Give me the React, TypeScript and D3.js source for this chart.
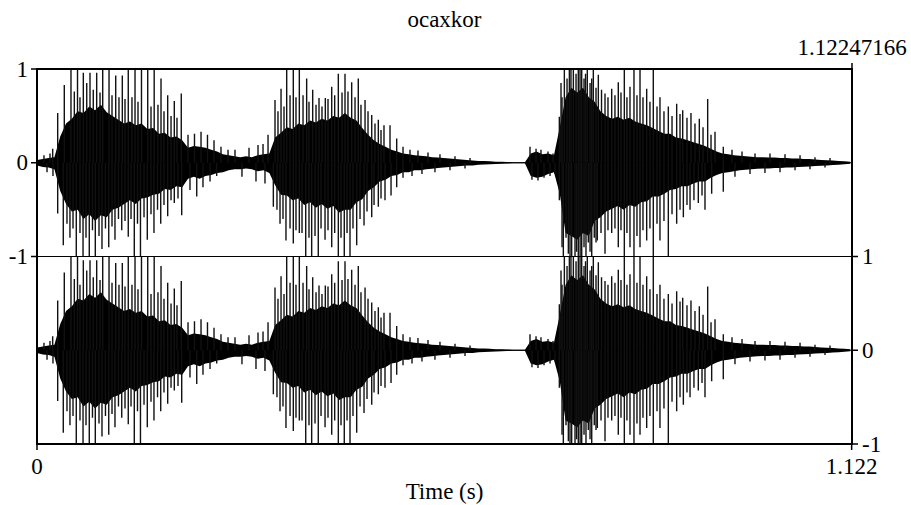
import * as d3 from 'd3';

// Praat-style stereo waveform: "ocaxkor"
const TITLE = 'ocaxkor';
const DURATION = 1.12247166;
const durationLabel = '1.12247166';
const timeTicks = [0, 1.122];
const timeTickLabels = ['0', '1.122'];
const ampTicks = [1, 0, -1];
const ampTickLabels = ['1', '0', '-1'];
const xTitle = 'Time (s)';

// solid core of the waveform, sampled every ENV_STEP seconds (upper and lower extent)
const ENV_STEP = 0.008;
const envUpper = [
  0.03, 0.04, 0.05, 0.06, 0.28, 0.42, 0.47, 0.55, 0.53, 0.6, 0.56, 0.62, 0.54, 0.5, 0.46, 0.42,
  0.44, 0.4, 0.42, 0.36, 0.37, 0.31, 0.32, 0.27, 0.28, 0.24, 0.16, 0.18, 0.17, 0.16, 0.14, 0.12,
  0.09, 0.08, 0.07, 0.06, 0.07, 0.06, 0.08, 0.09, 0.1, 0.27, 0.32, 0.38, 0.36, 0.42, 0.4, 0.45,
  0.43, 0.47, 0.45, 0.5, 0.48, 0.53, 0.48, 0.45, 0.37, 0.3, 0.24, 0.2, 0.17, 0.14, 0.12, 0.1,
  0.09, 0.08, 0.075, 0.07, 0.06, 0.055, 0.05, 0.045, 0.04, 0.035, 0.03, 0.025, 0.02, 0.018, 0.015, 0.012,
  0.01, 0.008, 0.006, 0.005, 0.005, 0.1, 0.12, 0.09, 0.1, 0.08, 0.38, 0.7, 0.8, 0.75, 0.8, 0.7,
  0.65, 0.55, 0.5, 0.47, 0.49, 0.46, 0.48, 0.44, 0.42, 0.4, 0.37, 0.34, 0.31, 0.31, 0.27, 0.26,
  0.24, 0.22, 0.2, 0.18, 0.15, 0.12, 0.1, 0.09, 0.08, 0.075, 0.07, 0.065, 0.06, 0.06, 0.055, 0.055,
  0.05, 0.05, 0.045, 0.045, 0.04, 0.04, 0.035, 0.03, 0.028, 0.025, 0.02, 0.015, 0.01,
];
const envLower = [
  0.03, 0.045, 0.05, 0.07, 0.3, 0.44, 0.52, 0.5, 0.6, 0.55, 0.62, 0.56, 0.58, 0.5, 0.48, 0.44,
  0.4, 0.44, 0.38, 0.37, 0.34, 0.33, 0.28, 0.29, 0.25, 0.26, 0.17, 0.15, 0.17, 0.14, 0.13, 0.11,
  0.1, 0.08, 0.07, 0.07, 0.06, 0.07, 0.09, 0.08, 0.11, 0.24, 0.34, 0.35, 0.4, 0.38, 0.45, 0.42,
  0.48, 0.44, 0.49, 0.46, 0.53, 0.5, 0.5, 0.42, 0.39, 0.3, 0.26, 0.2, 0.18, 0.14, 0.13, 0.1,
  0.1, 0.08, 0.08, 0.07, 0.065, 0.055, 0.05, 0.045, 0.04, 0.035, 0.03, 0.028, 0.022, 0.018, 0.015, 0.012,
  0.01, 0.008, 0.006, 0.005, 0.005, 0.14, 0.16, 0.15, 0.12, 0.1, 0.33, 0.75, 0.78, 0.82, 0.75, 0.78,
  0.62, 0.58, 0.52, 0.49, 0.46, 0.5, 0.45, 0.47, 0.42, 0.41, 0.36, 0.36, 0.33, 0.29, 0.28, 0.25,
  0.25, 0.22, 0.2, 0.2, 0.16, 0.13, 0.11, 0.1, 0.09, 0.08, 0.075, 0.07, 0.065, 0.06, 0.06, 0.055,
  0.055, 0.05, 0.05, 0.045, 0.042, 0.04, 0.035, 0.032, 0.028, 0.025, 0.02, 0.015, 0.01,
];

// single excursions [time s, amplitude]; values past 1 are clipped by the frame
const noisePeaks: [number, number][] = [
  [0.0096, 0.08], [0.0138, -0.1], [0.0179, 0.1], [0.0216, 0.15], [0.022, -0.14],
  [0.2727, 0.14], [0.2823, -0.15], [0.292, 0.16], [0.3016, -0.2], [0.3044, 0.19],
  [0.3113, 0.2], [0.314, -0.22], [0.3182, 0.3],
];
const syllable1Peaks: [number, number][] = [
  [0.0285, 0.53], [0.0376, 0.83], [0.0468, 1.2], [0.0558, 1.2], [0.0638, 0.96], [0.073, 0.96],
  [0.0822, 0.96], [0.0905, 1.2], [0.0992, 1.2], [0.1084, 0.93], [0.1175, 0.93], [0.1257, 1.2],
  [0.135, 1.2], [0.1439, 1.2], [0.1525, 1.2], [0.1614, 1.2], [0.1708, 0.9], [0.18, 0.72],
  [0.1891, 0.66], [0.1987, 0.74], [0.208, 0.3], [0.2169, 0.31], [0.2259, 0.33], [0.2348, 0.3],
  [0.2438, 0.24], [0.2534, 0.17], [0.2631, 0.14],
  [0.0514, 0.76], [0.0592, 0.7], [0.0685, 0.85], [0.0775, 0.78], [0.0868, 0.75], [0.1033, 0.72],
  [0.1129, 0.7], [0.1212, 0.68], [0.1308, 0.7], [0.1391, 0.65], [0.157, 0.6], [0.1666, 0.62],
  [0.1749, 0.55], [0.1846, 0.5], [0.1928, 0.48],
  [0.0285, -0.54], [0.0362, -0.88], [0.0454, -0.8], [0.0541, -1.2], [0.0634, -1.2], [0.072, -1.2],
  [0.0803, -1.2], [0.0895, -0.92], [0.0988, -0.9], [0.1074, -0.82], [0.1167, -0.72], [0.1257, -0.79],
  [0.134, -1.2], [0.1425, -1.2], [0.1519, -0.82], [0.1611, -0.75], [0.1704, -0.65], [0.18, -0.57],
  [0.1891, -0.43], [0.1993, -0.56], [0.2107, -0.29], [0.22, -0.36], [0.2286, -0.26], [0.2383, -0.2],
  [0.2475, -0.14],
  [0.0413, -0.65], [0.0496, -0.7], [0.0592, -0.75], [0.0675, -0.8], [0.0764, -0.72], [0.0854, -0.78],
  [0.0943, -0.7], [0.1033, -0.68], [0.1122, -0.6], [0.1212, -0.62], [0.1295, -0.6], [0.1384, -0.65],
  [0.1474, -0.58], [0.157, -0.55], [0.166, -0.5], [0.1749, -0.45], [0.1846, -0.4], [0.1942, -0.38],
];
const syllable2Peaks: [number, number][] = [
  [0.3278, 0.67], [0.3361, 0.79], [0.3439, 1.2], [0.353, 1.2], [0.3613, 1.2], [0.3714, 0.9],
  [0.3797, 0.78], [0.3884, 0.69], [0.3971, 0.69], [0.4059, 0.81], [0.415, 0.95], [0.4242, 0.95],
  [0.4334, 0.86], [0.4425, 0.9], [0.4518, 0.67], [0.461, 0.51], [0.4701, 0.46], [0.4779, 0.4],
  [0.4862, 0.4], [0.4954, 0.26], [0.5041, 0.17], [0.5137, 0.14], [0.5247, 0.13], [0.5385, 0.11],
  [0.555, 0.09], [0.5757, 0.07], [0.5964, 0.05],
  [0.3319, 0.55], [0.3402, 0.6], [0.3485, 0.72], [0.3567, 0.7], [0.3664, 0.72], [0.3746, 0.65],
  [0.3843, 0.62], [0.3925, 0.6], [0.4008, 0.68], [0.41, 0.72], [0.4201, 0.75], [0.4283, 0.76],
  [0.438, 0.7], [0.4462, 0.62], [0.4559, 0.55], [0.4655, 0.42], [0.4738, 0.35],
  [0.3255, -0.47], [0.3347, -0.65], [0.3429, -0.83], [0.353, -0.86], [0.3613, -0.75], [0.3701, -1.2],
  [0.3783, -1.2], [0.3874, -1.2], [0.3967, -0.82], [0.4059, -0.9], [0.415, -1.2], [0.4232, -1.2],
  [0.4311, -1.2], [0.4403, -0.88], [0.4504, -0.67], [0.461, -0.58], [0.4701, -0.47], [0.4793, -0.4],
  [0.4876, -0.35], [0.4954, -0.26], [0.5041, -0.16], [0.5165, -0.14], [0.5302, -0.12], [0.5481, -0.1],
  [0.5688, -0.08], [0.5895, -0.06],
  [0.3305, -0.5], [0.3388, -0.6], [0.3485, -0.7], [0.3567, -0.72], [0.365, -0.75], [0.3746, -0.8],
  [0.3829, -0.78], [0.3912, -0.7], [0.4008, -0.72], [0.41, -0.75], [0.4187, -0.8], [0.427, -0.75],
  [0.4352, -0.7], [0.4449, -0.6], [0.4545, -0.52], [0.4642, -0.45], [0.4738, -0.38],
];
const syllable3Peaks: [number, number][] = [
  [0.679, 0.17], [0.6873, 0.15], [0.6941, 0.14], [0.7038, 0.12], [0.7107, 0.1],
  [0.6817, -0.18], [0.69, -0.19], [0.6983, -0.16], [0.7066, -0.14], [0.7134, -0.12],
  [0.7194, 0.49], [0.7263, 1.2], [0.7332, 1.2], [0.7387, 1.2], [0.7455, 1.2], [0.7502, 1.2],
  [0.7579, 1.2], [0.7662, 1.2], [0.7731, 0.94], [0.7823, 0.74], [0.7915, 0.79], [0.8006, 0.86],
  [0.8089, 1.2], [0.8167, 0.81], [0.8222, 1.2], [0.8305, 1.2], [0.8397, 0.79], [0.8488, 1.2],
  [0.858, 0.7], [0.8695, 0.6], [0.881, 0.63], [0.8893, 0.56], [0.9007, 0.53], [0.9122, 0.47],
  [0.9237, 0.68], [0.9338, 0.33], [0.9452, 0.17], [0.9572, 0.14], [0.971, 0.12], [0.9889, 0.1],
  [1.0095, 0.1], [1.0302, 0.09], [1.0509, 0.08], [1.0715, 0.06], [1.0922, 0.05],
  [0.7231, 0.7], [0.73, 0.9], [0.7424, 0.95], [0.7534, 0.9], [0.7617, 0.85], [0.7699, 0.8],
  [0.7775, 0.78], [0.7864, 0.7], [0.796, 0.72], [0.8043, 0.75], [0.8125, 0.7], [0.8263, 0.72],
  [0.8346, 0.7], [0.8442, 0.65], [0.8539, 0.6], [0.8635, 0.55], [0.8746, 0.5], [0.8856, 0.52],
  [0.8952, 0.48], [0.9062, 0.42], [0.9173, 0.38], [0.9283, 0.3],
  [0.7217, 0.85], [0.7354, 1.1], [0.7479, 1.0], [0.7555, 0.95], [0.764, 0.9],
  [0.7194, -0.4], [0.7249, -1.2], [0.7318, -0.97], [0.7364, -1.2], [0.741, -1.2], [0.7455, -1.2],
  [0.7502, -1.2], [0.7561, -1.2], [0.764, -1.2], [0.7717, -0.83], [0.7823, -0.97], [0.7915, -0.75],
  [0.8006, -0.9], [0.8089, -1.2], [0.8167, -0.9], [0.8222, -1.2], [0.8305, -0.9], [0.8397, -0.83],
  [0.8488, -1.2], [0.858, -0.83], [0.8695, -1.2], [0.881, -0.65], [0.8902, -0.58], [0.8994, -0.5],
  [0.9108, -0.43], [0.92, -0.5], [0.9292, -0.33], [0.9452, -0.31], [0.9613, -0.15], [0.982, -0.12],
  [1.0026, -0.11], [1.0233, -0.1], [1.044, -0.08], [1.0646, -0.07], [1.0853, -0.05],
  [0.7286, -0.8], [0.7593, -0.85], [0.7675, -0.8], [0.7768, -0.75], [0.7864, -0.72], [0.796, -0.7],
  [0.8043, -0.72], [0.8125, -0.75], [0.8263, -0.78], [0.8346, -0.72], [0.8442, -0.7], [0.8539, -0.65],
  [0.8635, -0.62], [0.8746, -0.55], [0.8856, -0.5], [0.8952, -0.45], [0.9048, -0.4], [0.9159, -0.35],
  [0.7231, -0.9], [0.7341, -1.0], [0.7432, -0.95], [0.748, -1.1], [0.7534, -0.9], [0.7617, -0.95],
  [0.7699, -0.85],
];

const W = 911;
const H = 505;
const L = 37, R = 852, T = 69, B = 444;
const MID = (T + B) / 2;
const FONT = '"Liberation Serif", "Times New Roman", Tinos, "Noto Serif", "DejaVu Serif", FreeSerif, Times, serif';
const FS = 23;
const textStyle = { fontFamily: FONT, fontSize: FS };

export default function App() {
  const x = d3.scaleLinear().domain([0, DURATION]).range([L, R]);
  // both channels carry the same signal
  const channels = [
    d3.scaleLinear().domain([-1, 1]).range([MID, T]),
    d3.scaleLinear().domain([-1, 1]).range([B, MID]),
  ];
  const peaks = [...noisePeaks, ...syllable1Peaks, ...syllable2Peaks, ...syllable3Peaks];
  const env = envUpper.map((u, i) => ({ t: Math.min(i * ENV_STEP, DURATION), u, l: envLower[i] }));

  return (
    <svg width={W} height={H} style={{ position: 'absolute', left: 0, top: 0, background: '#fff' }}>
      <defs>
        {channels.map((y, i) => (
          <clipPath id={`chan${i}`} key={i}>
            <rect x={L} y={y(1)} width={R - L} height={y(-1) - y(1)} />
          </clipPath>
        ))}
      </defs>

      {channels.map((y, i) => {
        const area = d3.area<{ t: number; u: number; l: number }>()
          .x(d => x(d.t))
          .y0(d => y(-d.l))
          .y1(d => y(d.u));
        return (
          <g key={i} clipPath={`url(#chan${i})`}>
            <path d={area(env) ?? ''} fill="#000" />
            <line x1={x(0)} x2={x(DURATION)} y1={y(0)} y2={y(0)} stroke="#000" strokeWidth={1.2} />
            {peaks.map(([t, v], k) => (
              <line key={k} x1={x(t)} x2={x(t)} y1={y(0)} y2={y(v)} stroke="#111" strokeWidth={1.4} />
            ))}
          </g>
        );
      })}

      {/* frame */}
      <rect x={L} y={T} width={R - L} height={B - T} fill="none" stroke="#000" strokeWidth={2} />
      <line x1={L} x2={R} y1={MID} y2={MID} stroke="#000" strokeWidth={1} />

      {/* amplitude ticks: left for channel 1, right for channel 2 */}
      {ampTicks.map((v, i) => {
        const yy = channels[0](v);
        return (
          <g key={`l${i}`}>
            <line x1={L - 6} x2={L} y1={yy} y2={yy} stroke="#000" strokeWidth={1.5} />
            <text x={28} y={yy + 7.5} textAnchor="end" style={textStyle}>{ampTickLabels[i]}</text>
          </g>
        );
      })}
      {ampTicks.map((v, i) => {
        const yy = channels[1](v);
        return (
          <g key={`r${i}`}>
            <line x1={R} x2={R + 6} y1={yy} y2={yy} stroke="#000" strokeWidth={1.5} />
            <text x={862} y={yy + 7.5} textAnchor="start" style={textStyle}>{ampTickLabels[i]}</text>
          </g>
        );
      })}

      {/* time ticks */}
      {timeTicks.map((t, i) => (
        <g key={`t${i}`}>
          <line x1={x(t)} x2={x(t)} y1={B} y2={B + 6} stroke="#000" strokeWidth={1.5} />
          <text x={x(t)} y={474} textAnchor="middle" style={textStyle}>{timeTickLabels[i]}</text>
        </g>
      ))}
      <line x1={x(DURATION)} x2={x(DURATION)} y1={T - 6} y2={T} stroke="#000" strokeWidth={1.5} />
      <text x={x(DURATION)} y={55} textAnchor="middle" style={textStyle}>{durationLabel}</text>

      <text x={(L + R) / 2} y={27} textAnchor="middle" style={textStyle}>{TITLE}</text>
      <text x={(L + R) / 2} y={499} textAnchor="middle" style={textStyle}>{xTitle}</text>
    </svg>
  );
}
